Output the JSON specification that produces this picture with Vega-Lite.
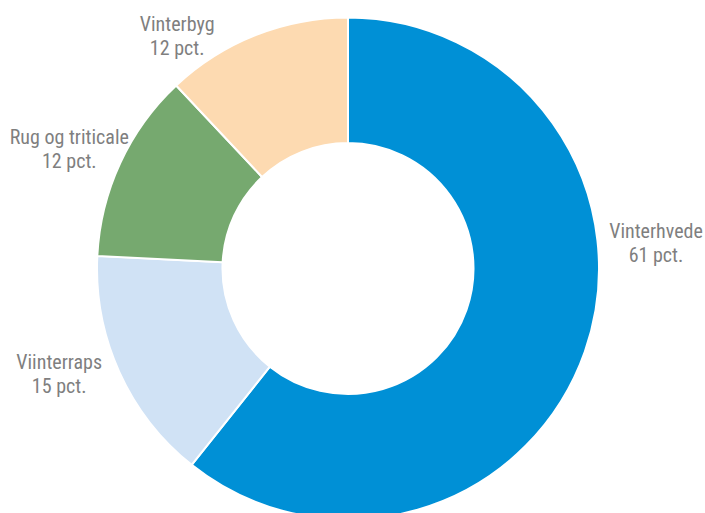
{
  "$schema": "https://vega.github.io/schema/vega-lite/v6.json",
  "autosize": {"type": "none"},
  "width": 696,
  "height": 537,
  "padding": {"left": 0, "top": 0, "right": 9, "bottom": 0},
  "background": "white",
  "view": {"stroke": null},
  "config": {"text": {"font": "Roboto Condensed, Liberation Sans, Arial", "fontSize": 20, "fill": "#7F7F7F", "align": "center", "baseline": "middle"}},
  "data": {
    "values": [
      {"kategori": "Vinterhvede", "andel": 60.7, "tekst": "61 pct.", "orden": 1},
      {"kategori": "Viinterraps", "andel": 15.1, "tekst": "15 pct.", "orden": 2},
      {"kategori": "Rug og triticale", "andel": 12.2, "tekst": "12 pct.", "orden": 3},
      {"kategori": "Vinterbyg", "andel": 12.0, "tekst": "12 pct.", "orden": 4}
    ]
  },
  "encoding": {
    "theta": {"field": "andel", "type": "quantitative", "stack": true},
    "order": {"field": "orden", "type": "quantitative"}
  },
  "layer": [
    {
      "mark": {"type": "arc", "outerRadius": 251, "innerRadius": 125.5, "stroke": "white", "strokeWidth": 2},
      "encoding": {
        "color": {
          "field": "kategori",
          "type": "nominal",
          "scale": {
            "domain": ["Vinterhvede", "Viinterraps", "Rug og triticale", "Vinterbyg"],
            "range": ["#0090D6", "#D0E2F5", "#76A96F", "#FDDAB1"]
          },
          "legend": null
        }
      }
    },
    {
      "mark": {"type": "text", "radius": 309, "thetaOffset": -0.4171, "dy": -12},
      "encoding": {"text": {"condition": {"test": "datum.kategori === 'Vinterhvede'", "field": "kategori"}, "value": ""}}
    },
    {
      "mark": {"type": "text", "radius": 309, "thetaOffset": -0.4171, "dy": 12},
      "encoding": {"text": {"condition": {"test": "datum.kategori === 'Vinterhvede'", "field": "tekst"}, "value": ""}}
    },
    {
      "mark": {"type": "text", "radius": 308, "thetaOffset": 0.0695, "dy": -12},
      "encoding": {"text": {"condition": {"test": "datum.kategori === 'Viinterraps'", "field": "kategori"}, "value": ""}}
    },
    {
      "mark": {"type": "text", "radius": 308, "thetaOffset": 0.0695, "dy": 12},
      "encoding": {"text": {"condition": {"test": "datum.kategori === 'Viinterraps'", "field": "tekst"}, "value": ""}}
    },
    {
      "mark": {"type": "text", "radius": 303, "thetaOffset": -0.0304, "dy": -12},
      "encoding": {"text": {"condition": {"test": "datum.kategori === 'Rug og triticale'", "field": "kategori"}, "value": ""}}
    },
    {
      "mark": {"type": "text", "radius": 303, "thetaOffset": -0.0304, "dy": 12},
      "encoding": {"text": {"condition": {"test": "datum.kategori === 'Rug og triticale'", "field": "tekst"}, "value": ""}}
    },
    {
      "mark": {"type": "text", "radius": 288, "thetaOffset": -0.258, "dy": -12},
      "encoding": {"text": {"condition": {"test": "datum.kategori === 'Vinterbyg'", "field": "kategori"}, "value": ""}}
    },
    {
      "mark": {"type": "text", "radius": 288, "thetaOffset": -0.258, "dy": 12},
      "encoding": {"text": {"condition": {"test": "datum.kategori === 'Vinterbyg'", "field": "tekst"}, "value": ""}}
    }
  ]
}
